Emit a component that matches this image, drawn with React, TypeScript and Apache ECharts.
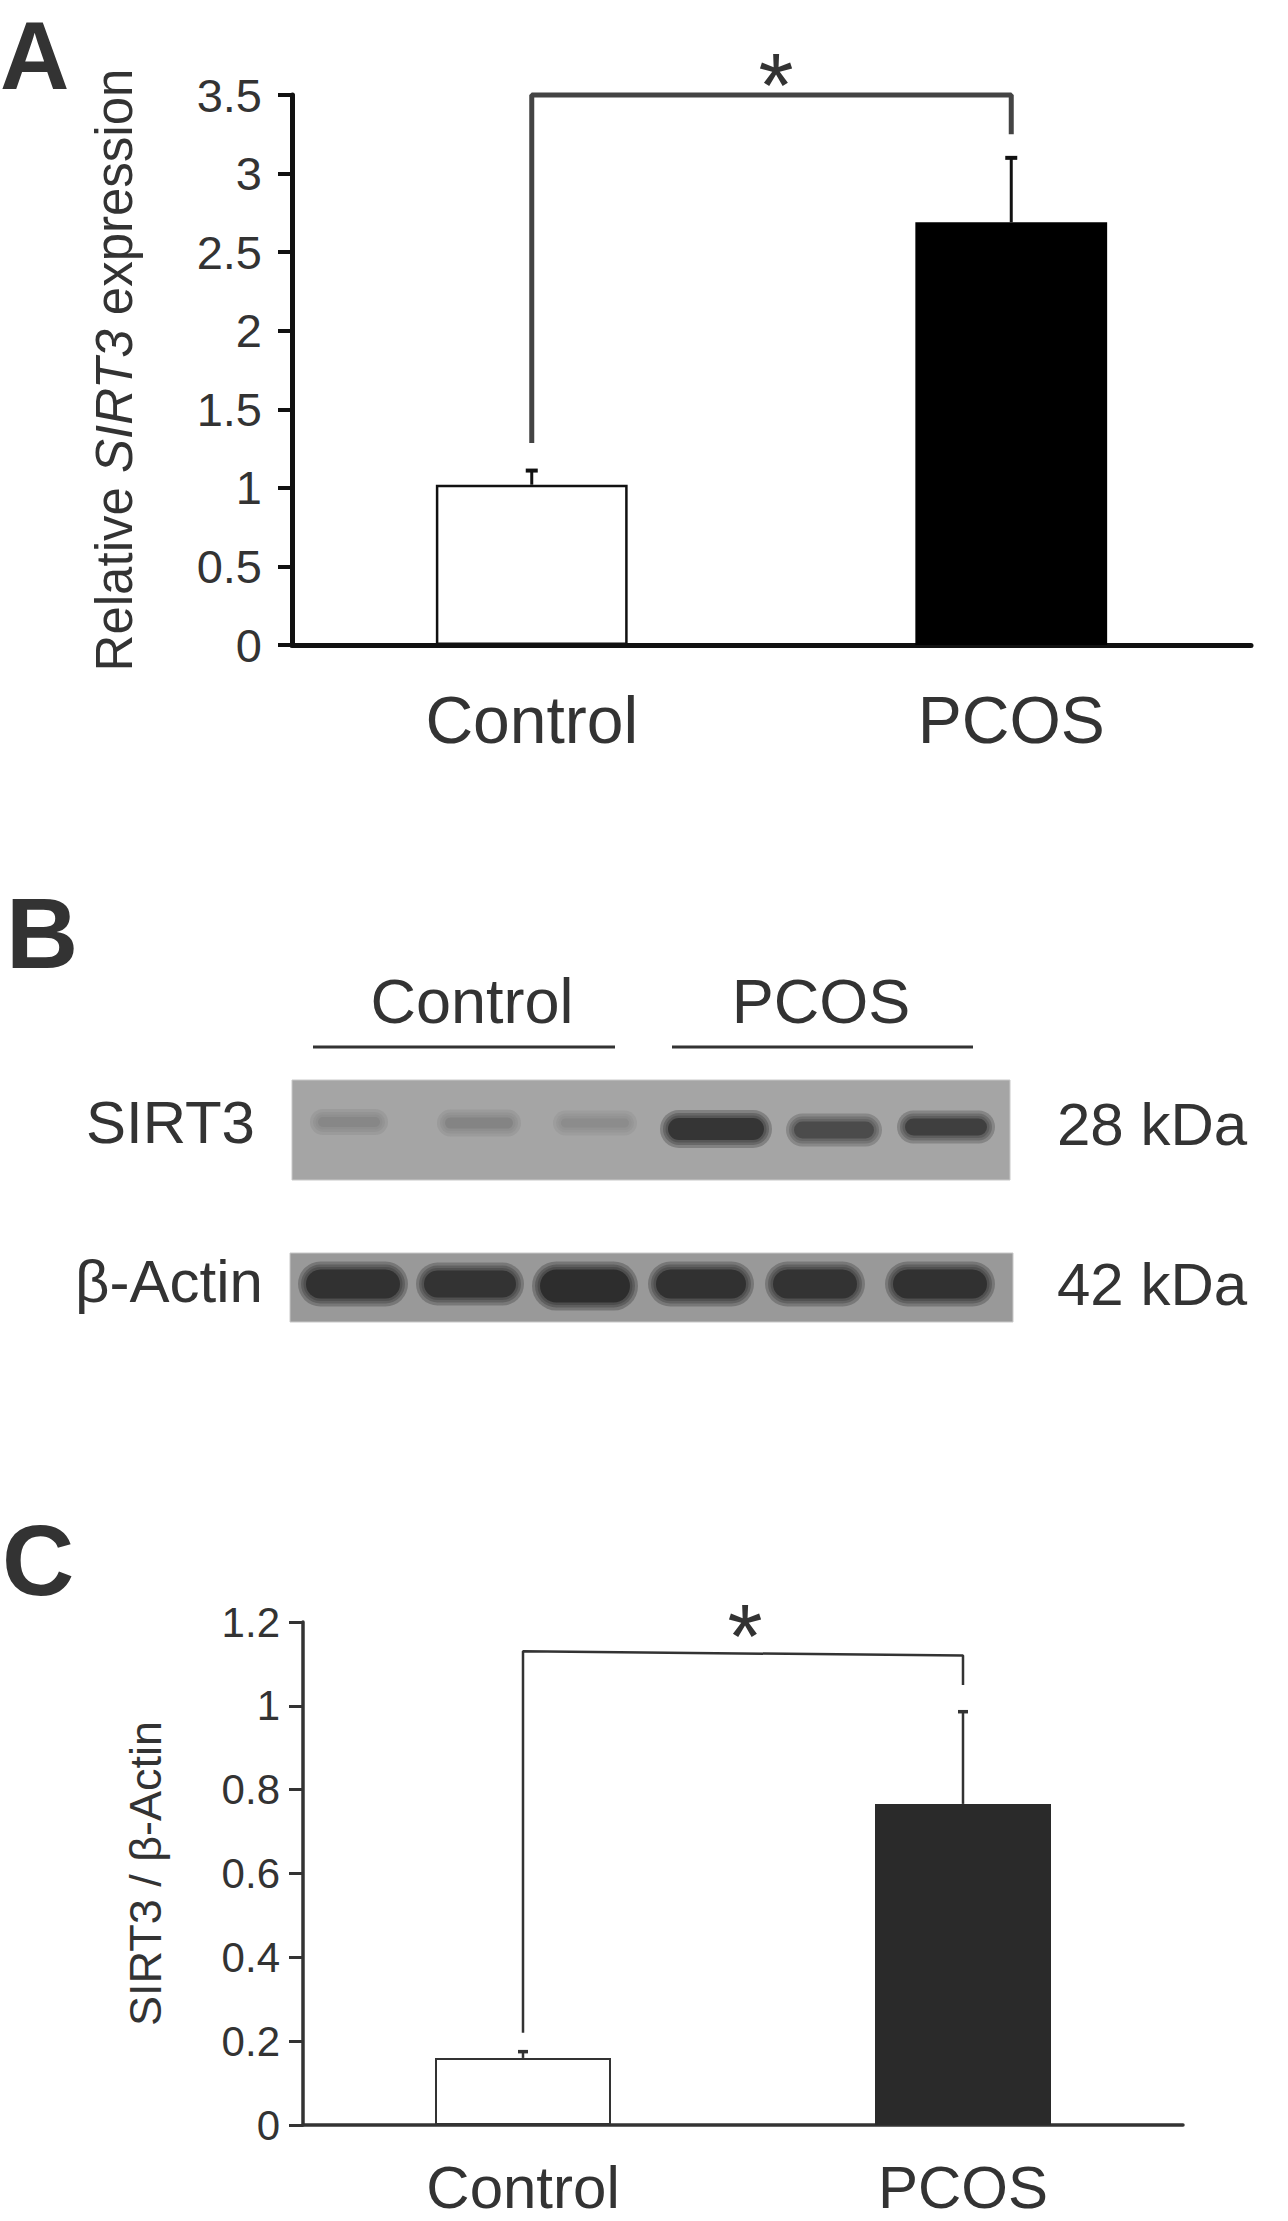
import React, { useEffect, useRef } from "react";
import * as echarts from "echarts";

// ---------- data ----------
const categories = ["Control", "PCOS"];

// Panel A: relative SIRT3 mRNA expression
const mrnaMean = [1.02, 2.69];
const mrnaErr = [0.09, 0.41];
const mrnaTicks = { min: 0, max: 3.5, interval: 0.5 };
const mrnaBracket = [
  [0, 1.285],
  [0, 3.5],
  [1, 3.5],
  [1, 3.25],
];

// Panel C: SIRT3 / beta-actin densitometry
const ratioMean = [0.16, 0.766];
const ratioErr = [0.015, 0.22];
const ratioTicks = { min: 0, max: 1.2, interval: 0.2 };
const ratioBracket = [
  [0, 0.22],
  [0, 1.13],
  [1, 1.12],
  [1, 1.05],
];

// Panel B: western blot lanes and relative band intensity (0..1)
const blotGroups = ["Control", "PCOS"];
const blotRows = ["SIRT3", "β-Actin"];
const blotSizes = ["28 kDa", "42 kDa"];
const sirt3Intensity = [0.24, 0.26, 0.2, 0.9, 0.72, 0.82];
const actinIntensity = [0.92, 0.9, 0.95, 0.92, 0.9, 0.92];

// ---------- layout ----------
const FONT = '"Liberation Sans", Arial, Helvetica, sans-serif';
const TXT = "#333";

const L = {
  sirt3Blot: { x: 292, y: 1080, w: 718, h: 100, bg: [165, 165, 165] },
  actinBlot: { x: 290, y: 1253, w: 723, h: 69, bg: [153, 153, 153] },
  sirt3Lanes: [
    { cx: 349, w: 62, cy: 1122, h: 10 },
    { cx: 479, w: 68, cy: 1123, h: 11 },
    { cx: 595, w: 68, cy: 1123, h: 9 },
    { cx: 716, w: 96, cy: 1129, h: 22 },
    { cx: 834, w: 80, cy: 1130, h: 17 },
    { cx: 946, w: 82, cy: 1127, h: 17 },
  ],
  actinLanes: [
    { cx: 353, w: 94, cy: 1284, h: 29 },
    { cx: 470, w: 92, cy: 1284, h: 27 },
    { cx: 585, w: 90, cy: 1286, h: 33 },
    { cx: 701, w: 90, cy: 1284, h: 29 },
    { cx: 815, w: 84, cy: 1284, h: 29 },
    { cx: 940, w: 94, cy: 1284, h: 29 },
  ],
};

function bandColor(bg: number[], k: number) {
  const dark = 34;
  const c = bg.map((v) => Math.round(v + (dark - v) * k));
  return `rgb(${c[0]},${c[1]},${c[2]})`;
}

function txt(
  text: string,
  x: number,
  y: number,
  size: number,
  align: string,
  extra: any = {}
) {
  return {
    type: "text",
    x,
    y,
    silent: true,
    style: {
      text,
      fontSize: size,
      fontFamily: FONT,
      fill: TXT,
      textAlign: align,
      align,
      textVerticalAlign: "middle",
      verticalAlign: "middle",
      ...extra,
    },
  };
}

function errorSeries(
  xi: number,
  yi: number,
  mean: number[],
  err: number[],
  color: string,
  lw: number,
  cap: number
) {
  return {
    type: "custom",
    xAxisIndex: xi,
    yAxisIndex: yi,
    z: 5,
    encode: { x: 0, y: 1 },
    data: categories.map((_, i) => [i, mean[i], err[i]]),
    renderItem: (_p: any, api: any) => {
      const x = api.value(0);
      const m = api.value(1);
      const e = api.value(2);
      const b = api.coord([x, m]);
      const t = api.coord([x, m + e]);
      return {
        type: "group",
        children: [
          {
            type: "line",
            shape: { x1: b[0], y1: b[1], x2: t[0], y2: t[1] },
            style: { stroke: color, lineWidth: lw },
          },
          {
            type: "line",
            shape: { x1: t[0] - cap, y1: t[1], x2: t[0] + cap, y2: t[1] },
            style: { stroke: color, lineWidth: lw + 1 },
          },
        ],
      };
    },
  };
}

export default function App() {
  const ref = useRef<HTMLDivElement>(null);

  useEffect(() => {
    if (!ref.current) return;
    const chart = echarts.init(ref.current, undefined, { renderer: "svg" });

    const graphics: any[] = [];
    // panel letters
    graphics.push(txt("A", 0, 55, 96, "left", { fontWeight: "bold" }));
    graphics.push(txt("B", 6, 933, 100, "left", { fontWeight: "bold" }));
    graphics.push(txt("C", 2, 1560, 100, "left", { fontWeight: "bold" }));

    // significance stars
    graphics.push(txt("*", 776, 86, 90, "center"));
    graphics.push(txt("*", 745, 1637, 90, "center"));

    // Panel B header
    graphics.push(txt(blotGroups[0], 472, 1001, 63, "center"));
    graphics.push(txt(blotGroups[1], 821, 1001, 63, "center"));
    graphics.push({
      type: "line",
      silent: true,
      shape: { x1: 313, y1: 1047, x2: 615, y2: 1047 },
      style: { stroke: "#333", lineWidth: 3 },
    });
    graphics.push({
      type: "line",
      silent: true,
      shape: { x1: 672, y1: 1047, x2: 973, y2: 1047 },
      style: { stroke: "#333", lineWidth: 3 },
    });

    // blots
    const blots = [
      { box: L.sirt3Blot, lanes: L.sirt3Lanes, inten: sirt3Intensity },
      { box: L.actinBlot, lanes: L.actinLanes, inten: actinIntensity },
    ];
    blots.forEach((b, r) => {
      graphics.push({
        type: "rect",
        silent: true,
        shape: { x: b.box.x, y: b.box.y, width: b.box.w, height: b.box.h },
        style: {
          fill: `rgb(${b.box.bg.join(",")})`,
          stroke: "#c8c8c8",
          lineWidth: 1,
        },
      });
      b.lanes.forEach((ln, i) => {
        const col = bandColor(b.box.bg, b.inten[i]);
        // soft edge: stacked translucent layers, widest first
        const layers = [8, 5, 2.5, 0];
        layers.forEach((g, li) => {
          const h = ln.h + 2 * g;
          graphics.push({
            type: "rect",
            silent: true,
            shape: {
              x: ln.cx - ln.w / 2 - g,
              y: ln.cy - h / 2,
              width: ln.w + 2 * g,
              height: h,
              r: h / 2,
            },
            style: { fill: col, opacity: li === layers.length - 1 ? 0.85 : 0.3 },
          });
        });
      });
      const cy = r === 0 ? 1122 : 1281;
      graphics.push(txt(blotRows[r], r === 0 ? 255 : 263, cy, 60, "right"));
      graphics.push(txt(blotSizes[r], 1057, r === 0 ? 1124 : 1284, 60, "left"));
    });

    const option: any = {
      animation: false,
      backgroundColor: "#fff",
      grid: [
        { left: 292, top: 95, width: 959, height: 550 },
        { left: 303, top: 1622, width: 880, height: 503 },
      ],
      xAxis: [
        {
          type: "category",
          gridIndex: 0,
          data: categories,
          axisLine: { lineStyle: { color: "#111", width: 5 } },
          axisTick: { length: 15, lineStyle: { color: "#111", width: 4 } },
          axisLabel: {
            fontSize: 66,
            color: TXT,
            fontFamily: FONT,
            margin: 42,
          },
        },
        {
          type: "category",
          gridIndex: 1,
          data: categories,
          axisLine: { lineStyle: { color: "#333", width: 3.5 } },
          axisTick: { length: 14, lineStyle: { color: "#333", width: 3 } },
          axisLabel: {
            fontSize: 60,
            color: TXT,
            fontFamily: FONT,
            margin: 32,
          },
        },
      ],
      yAxis: [
        {
          type: "value",
          gridIndex: 0,
          min: mrnaTicks.min,
          max: mrnaTicks.max,
          interval: mrnaTicks.interval,
          splitLine: { show: false },
          axisLine: { show: true, lineStyle: { color: "#111", width: 5 } },
          axisTick: { show: true, length: 14, lineStyle: { color: "#111", width: 4 } },
          axisLabel: { fontSize: 47, color: TXT, fontFamily: FONT, margin: 30 },
          name: "{a|Relative }{i|SIRT3}{a| expression}",
          nameLocation: "middle",
          nameGap: 152,
          nameTextStyle: {
            fontSize: 51,
            color: TXT,
            fontFamily: FONT,
            rich: {
              a: { fontSize: 51, color: TXT, fontFamily: FONT, lineHeight: 51 },
              i: {
                fontSize: 51,
                color: TXT,
                fontFamily: FONT,
                fontStyle: "italic",
                lineHeight: 51,
              },
            },
          },
        },
        {
          type: "value",
          gridIndex: 1,
          min: ratioTicks.min,
          max: ratioTicks.max,
          interval: ratioTicks.interval,
          splitLine: { show: false },
          axisLine: { show: true, lineStyle: { color: "#333", width: 3.5 } },
          axisTick: { show: true, length: 14, lineStyle: { color: "#333", width: 3 } },
          axisLabel: { fontSize: 42, color: TXT, fontFamily: FONT, margin: 23 },
          name: "SIRT3 / β-Actin",
          nameLocation: "middle",
          nameGap: 135,
          nameTextStyle: { fontSize: 45, color: TXT, fontFamily: FONT },
        },
      ],
      series: [
        {
          type: "bar",
          xAxisIndex: 0,
          yAxisIndex: 0,
          barWidth: "40%",
          data: mrnaMean.map((v, i) => ({
            value: v,
            itemStyle:
              i === 0
                ? { color: "#fff", borderColor: "#111", borderWidth: 2.5 }
                : { color: "#000" },
          })),
        },
        errorSeries(0, 0, mrnaMean, mrnaErr, "#111", 3, 6),
        {
          type: "line",
          xAxisIndex: 0,
          yAxisIndex: 0,
          data: mrnaBracket,
          symbol: "none",
          clip: false,
          lineStyle: { color: "#444", width: 5 },
          z: 4,
        },
        {
          type: "bar",
          xAxisIndex: 1,
          yAxisIndex: 1,
          barWidth: "40%",
          data: ratioMean.map((v, i) => ({
            value: v,
            itemStyle:
              i === 0
                ? { color: "#fff", borderColor: "#333", borderWidth: 2 }
                : { color: "#2a2a2a" },
          })),
        },
        errorSeries(1, 1, ratioMean, ratioErr, "#333", 2.5, 5),
        {
          type: "line",
          xAxisIndex: 1,
          yAxisIndex: 1,
          data: ratioBracket,
          symbol: "none",
          clip: false,
          lineStyle: { color: "#333", width: 2.5 },
          z: 4,
        },
      ],
      graphic: graphics,
    };

    chart.setOption(option);
    return () => chart.dispose();
  }, []);

  return (
    <div
      ref={ref}
      style={{ position: "absolute", left: 0, top: 0, width: 1288, height: 2221 }}
    />
  );
}
